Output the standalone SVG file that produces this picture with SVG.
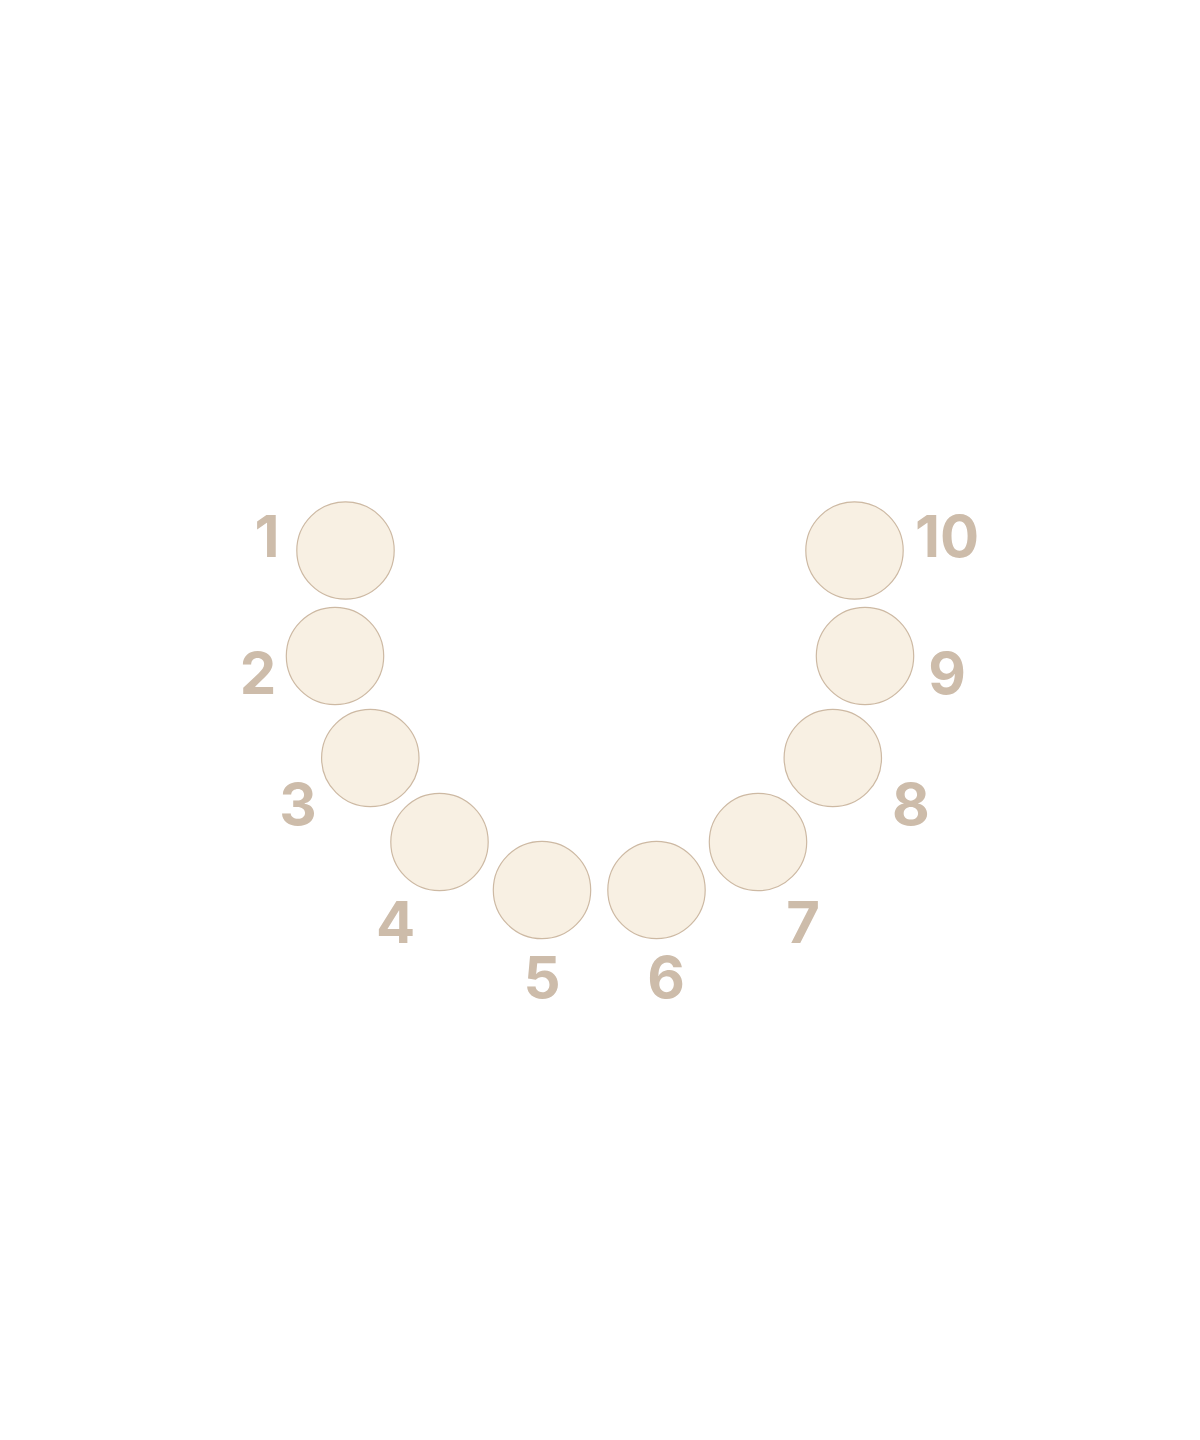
<svg xmlns="http://www.w3.org/2000/svg" width="1200" height="1440" viewBox="0 0 1200 1440">
<style>
.seat{fill:#f8f0e3;stroke:#cdb9a3;stroke-width:1.2}
.lbl{font-family:Inter,"Noto Sans","Liberation Sans",sans-serif;font-weight:700;font-size:58px;fill:#cdbcaa;text-anchor:middle}
</style>
<rect width="1200" height="1440" fill="#ffffff"/>
<g id="connectors"></g>
<g id="seat1"><circle class="seat" cx="345.5" cy="550.5" r="48.7"/><text class="lbl" x="267" y="557">1</text></g>
<g id="seat2"><circle class="seat" cx="335" cy="656" r="48.7"/><text class="lbl" x="258" y="694">2</text></g>
<g id="seat3"><circle class="seat" cx="370.3" cy="758" r="48.7"/><text class="lbl" x="298" y="825">3</text></g>
<g id="seat4"><circle class="seat" cx="439.5" cy="842" r="48.7"/><text class="lbl" x="395.5" y="943">4</text></g>
<g id="seat5"><circle class="seat" cx="542" cy="890" r="48.7"/><text class="lbl" x="542" y="998">5</text></g>
<g id="seat6"><circle class="seat" cx="656.5" cy="890" r="48.7"/><text class="lbl" x="666" y="998">6</text></g>
<g id="seat7"><circle class="seat" cx="758" cy="842" r="48.7"/><text class="lbl" x="803" y="943">7</text></g>
<g id="seat8"><circle class="seat" cx="832.8" cy="758" r="48.7"/><text class="lbl" x="911" y="825">8</text></g>
<g id="seat9"><circle class="seat" cx="865" cy="656" r="48.7"/><text class="lbl" x="947" y="694">9</text></g>
<g id="seat10"><circle class="seat" cx="854.5" cy="550.5" r="48.7"/><text class="lbl" x="947" y="557">10</text></g>
</svg>
